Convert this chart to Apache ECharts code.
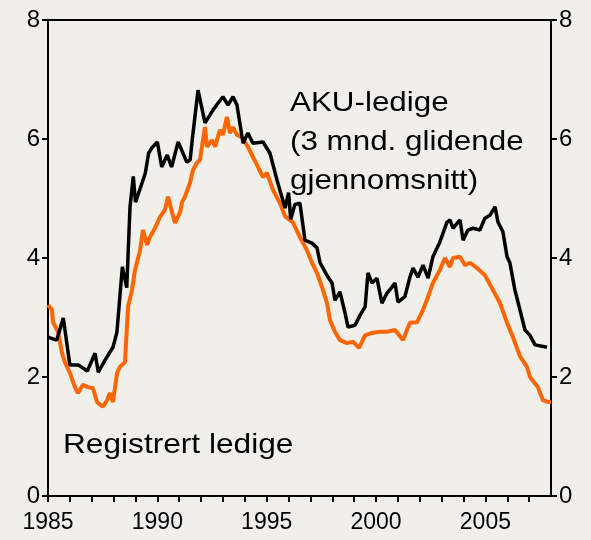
<!DOCTYPE html>
<html>
<head>
<meta charset="utf-8">
<script src="https://cdn.jsdelivr.net/npm/echarts@6/dist/echarts.min.js"></script>
<style>
  html, body { margin: 0; padding: 0; background: #f0efe9; }
  #main { width: 591px; height: 540px; }
</style>
</head>
<body>
<div id="main"></div>
<script>
// AKU-ledige (3 mnd. glidende gjennomsnitt), prosent
var akuYears = [1985.0, 1985.4, 1985.7, 1986.0, 1986.4, 1986.8, 1987.15, 1987.3, 1987.6, 1987.97,
  1988.15, 1988.4, 1988.6, 1988.75, 1988.9, 1989.0, 1989.3, 1989.45, 1989.6, 1989.75,
  1990.0, 1990.2, 1990.45, 1990.65, 1990.95, 1991.35, 1991.5, 1991.6, 1991.86, 1992.18,
  1992.55, 1992.77, 1993.0, 1993.23, 1993.46, 1993.64, 1993.92, 1994.14, 1994.37, 1994.83,
  1995.15, 1995.47, 1995.84, 1996.0, 1996.1, 1996.29, 1996.52, 1996.75, 1997.07, 1997.3,
  1997.44, 1997.8, 1997.99, 1998.12, 1998.35, 1998.58, 1998.72, 1999.04, 1999.27, 1999.5,
  1999.63, 1999.81, 2000.04, 2000.27, 2000.5, 2000.73, 2000.87, 2001.0, 2001.32, 2001.55,
  2001.69, 2001.92, 2002.15, 2002.38, 2002.6, 2002.92, 2003.24, 2003.38, 2003.52, 2003.84,
  2003.98, 2004.2, 2004.43, 2004.75, 2004.98, 2005.21, 2005.44, 2005.58, 2005.8, 2005.99,
  2006.12, 2006.35, 2006.58, 2006.81, 2007.04, 2007.27, 2007.82];
var akuValues = [2.67, 2.62, 2.99, 2.2, 2.2, 2.1, 2.4, 2.08, 2.28, 2.5,
  2.75, 3.85, 3.5, 4.86, 5.37, 4.94, 5.26, 5.43, 5.76, 5.85,
  5.95, 5.53, 5.73, 5.53, 5.95, 5.61, 5.65, 6.0, 6.82, 6.27,
  6.49, 6.6, 6.71, 6.57, 6.71, 6.57, 5.93, 6.1, 5.93, 5.95,
  5.76, 5.31, 4.84, 5.1, 4.65, 4.9, 4.92, 4.3, 4.25, 4.17,
  3.92, 3.68, 3.58, 3.29, 3.43, 3.08, 2.84, 2.87, 3.04, 3.18,
  3.75, 3.58, 3.66, 3.24, 3.41, 3.51, 3.58, 3.26, 3.35, 3.68,
  3.83, 3.68, 3.88, 3.66, 4.02, 4.27, 4.6, 4.64, 4.5, 4.64,
  4.3, 4.47, 4.5, 4.47, 4.67, 4.72, 4.86, 4.6, 4.44, 4.02,
  3.92, 3.46, 3.13, 2.79, 2.7, 2.54, 2.5];

// Registrert ledige, prosent
var regYears = [1985.0, 1985.18, 1985.23, 1985.46, 1985.64, 1985.78, 1986.0, 1986.23, 1986.37, 1986.6,
  1986.83, 1987.06, 1987.24, 1987.51, 1987.7, 1987.83, 1987.97, 1988.16, 1988.29, 1988.52,
  1988.66, 1988.84, 1988.98, 1989.21, 1989.34, 1989.53, 1989.66, 1989.89, 1990.12, 1990.35,
  1990.49, 1990.67, 1990.81, 1991.04, 1991.13, 1991.26, 1991.49, 1991.63, 1991.81, 1991.95,
  1992.18, 1992.27, 1992.5, 1992.64, 1992.86, 1993.0, 1993.18, 1993.32, 1993.46, 1993.64,
  1993.87, 1994.14, 1994.37, 1994.6, 1994.83, 1995.01, 1995.29, 1995.61, 1995.84, 1996.2,
  1996.52, 1996.84, 1997.07, 1997.3, 1997.53, 1997.76, 1997.89, 1998.12, 1998.35, 1998.67,
  1998.95, 1999.22, 1999.5, 1999.81, 2000.18, 2000.5, 2000.87, 2001.23, 2001.55, 2001.87,
  2002.15, 2002.38, 2002.6, 2002.92, 2003.15, 2003.38, 2003.52, 2003.84, 2004.07, 2004.3,
  2004.62, 2004.98, 2005.35, 2005.67, 2005.99, 2006.26, 2006.58, 2006.9, 2007.04, 2007.4,
  2007.63, 2007.86, 2008.0];
var regValues = [3.21, 3.13, 2.92, 2.76, 2.4, 2.24, 2.07, 1.83, 1.73, 1.87,
  1.83, 1.81, 1.58, 1.5, 1.61, 1.73, 1.58, 2.07, 2.17, 2.25,
  3.18, 3.46, 3.8, 4.13, 4.47, 4.22, 4.35, 4.5, 4.69, 4.81,
  5.03, 4.77, 4.59, 4.77, 4.94, 5.03, 5.26, 5.48, 5.6, 5.65,
  6.2, 5.87, 5.98, 5.87, 6.15, 6.07, 6.37, 6.1, 6.2, 6.07,
  6.03, 5.87, 5.7, 5.53, 5.36, 5.43, 5.14, 4.92, 4.7, 4.6,
  4.35, 4.13, 3.92, 3.75, 3.51, 3.24, 2.96, 2.76, 2.62, 2.57,
  2.59, 2.49, 2.7, 2.74, 2.76, 2.76, 2.79, 2.62, 2.91, 2.92,
  3.13, 3.35, 3.58, 3.8, 4.0, 3.85, 4.0, 4.02, 3.88, 3.92,
  3.83, 3.71, 3.46, 3.24, 2.91, 2.67, 2.35, 2.17, 2.0, 1.83,
  1.61, 1.58, 1.58];

var yTicks = [0, 2, 4, 6, 8];
var xLabelYears = [1985, 1990, 1995, 2000, 2005];

function pairs(xs, ys) {
  return xs.map(function (x, i) { return [x, ys[i]]; });
}

var chart = echarts.init(document.getElementById('main'));
var font = 'Liberation Sans, Arial, sans-serif';

var yAxisBase = {
  type: 'value',
  min: yTicks[0],
  max: yTicks[yTicks.length - 1],
  interval: 2,
  splitLine: { show: false },
  axisLine: { show: true, lineStyle: { color: '#000', width: 2 } },
  axisTick: { show: true, length: 6, lineStyle: { color: '#000', width: 2 } },
  axisLabel: { color: '#000', fontSize: 24, fontFamily: font, margin: 8 }
};

var option = {
  backgroundColor: '#f0efe9',
  animation: false,
  grid: {
    left: 48, right: 40, top: 20, bottom: 44,
    show: true, borderColor: '#000', borderWidth: 2
  },
  xAxis: {
    type: 'value',
    min: 1985,
    max: 2008,
    interval: 1,
    splitLine: { show: false },
    axisLine: { show: true, lineStyle: { color: '#000', width: 2 } },
    axisTick: { show: true, length: 6, lineStyle: { color: '#000', width: 2 } },
    axisLabel: {
      color: '#000', fontSize: 23, fontFamily: font, margin: 15,
      showMaxLabel: false,
      formatter: function (v) {
        return xLabelYears.indexOf(v) >= 0 ? String(v) : '';
      }
    }
  },
  yAxis: [
    Object.assign({}, yAxisBase, { position: 'left' }),
    Object.assign({}, yAxisBase, { position: 'right' })
  ],
  series: [
    {
      name: 'Registrert ledige',
      type: 'line',
      data: pairs(regYears, regValues),
      showSymbol: false,
      lineStyle: { color: '#ff6600', width: 4 },
      z: 2
    },
    {
      name: 'AKU-ledige',
      type: 'line',
      data: pairs(akuYears, akuValues),
      showSymbol: false,
      lineStyle: { color: '#000', width: 3.5 },
      z: 3
    }
  ],
  graphic: [
    {
      type: 'text', x: 290, y: 84, scaleX: 1.12,
      style: {
        text: 'AKU-ledige\n(3 mnd. glidende\ngjennomsnitt)',
        fill: '#000', font: '28px ' + font, lineHeight: 39
      }
    },
    {
      type: 'text', x: 63, y: 431, scaleX: 1.13,
      style: { text: 'Registrert ledige', fill: '#000', font: '28px ' + font }
    }
  ]
};

chart.setOption(option);
</script>
</body>
</html>
